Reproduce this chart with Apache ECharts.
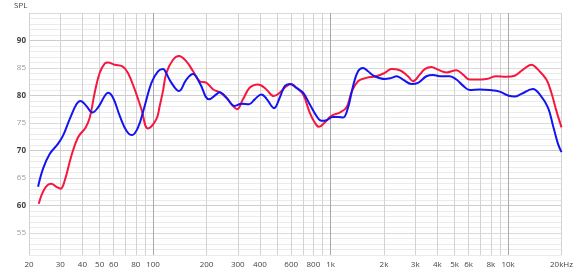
<!DOCTYPE html>
<html>
<head>
<meta charset="utf-8">
<script src="https://cdn.jsdelivr.net/npm/echarts@6/dist/echarts.min.js"></script>
<style>
html,body{margin:0;padding:0;background:#fff;}
#chart{width:576px;height:273px;}
</style>
</head>
<body>
<div id="chart"></div>
<script>
// Frequency (Hz) and SPL (dB)
var redFreq = [22.7,24.5,26.7,28.5,30.1,31.8,34.7,37.8,41.7,44,46.9,50,53.4,55.7,60.8,67.2,72.2,78.8,86,93.6,104.4,109,113.7,118.9,129.5,140,154,168,183,200,218,237,259,282,297,321,350,390,435,478,517,564,602,642,700,763,814,861,927,1011,1126,1228,1310,1428,1592,1812,2018,2202,2452,2730,2915,3178,3392,3698,4030,4494,5117,5574,6080,6632,7550,8596,9788,10898,12138,13536,14746,16440,17540,18720,20000];
var redSpl = [60.3,63.05,63.95,63.4,63.05,64.55,69.1,72.4,74.2,76,80.5,84.1,85.8,86,85.6,85.3,84.1,81.1,77.5,74,75.7,78.1,80.8,84.1,86.5,87.2,86.2,84.4,82.6,82.3,81.1,80.6,79.6,78.1,77.5,79.3,81.4,82,81.1,79.9,80.5,81.7,82.1,81.4,80.2,76.9,75.1,74.3,75.1,76.3,76.9,77.8,80.5,82.6,83.2,83.5,84.1,84.8,84.6,83.5,82.6,83.8,84.8,85.2,84.7,84.2,84.6,83.8,82.9,82.9,83,83.5,83.4,83.6,84.7,85.6,84.7,82.9,80.5,77.2,74.2];
var blueFreq = [22.5,24,26.2,29.1,31.1,33.9,37,39,42.1,45.5,48.9,53.4,55.7,59.5,64.9,70.8,76.1,82.3,89.7,97.9,106.6,113.7,116.3,126.9,140,154,168,183,207,227,237,259,288,315,347,374,408,438,480,517,552,589,642,700,763,832,888,947,1032,1101,1175,1254,1338,1428,1523,1625,1773,2018,2202,2350,2559,2854,3110,3467,3777,4120,4690,5117,5574,6080,6922,7880,8972,9990,10898,11890,13818,15078,16784,17918,19114,20000];
var blueSpl = [63.4,66.7,69.4,71.2,72.7,75.7,78.4,79,78.1,76.9,77.8,79.9,80.5,79.6,76.3,73.6,72.8,74.2,78.1,82.3,84.4,84.8,84.6,82.3,80.8,82.9,83.9,82.3,79.3,80.2,80.6,79.6,78.1,78.5,78.4,79.3,80.2,79.3,77.7,79.6,81.7,82.1,81.4,80.5,78.4,76.3,75.4,75.5,76.1,76.1,76,77.8,81.7,84.4,85,84.4,83.5,83,83.2,83.5,82.9,82.1,82.3,83.5,83.75,83.5,83.5,82.9,81.8,81,81.1,81,80.7,80,79.8,80.3,81.2,80.2,77.8,74.5,71.2,69.7];
var gridFreqs = [20,30,40,50,60,70,80,90,100,200,300,400,500,600,700,800,900,1000,2000,3000,4000,5000,6000,7000,8000,9000,10000,20000];
var xTickFreqs = [20,30,40,50,60,80,100,200,300,400,600,800,1000,2000,3000,4000,5000,6000,8000,10000,20000];
var xTickLabels = ['20','30','40','50','60','80','100','200','300','400','600','800','1k','2k','3k','4k','5k','6k','8k','10k','20kHz'];
var yTicks = [55,60,65,70,75,80,85,90];

var lg = function (f) { return Math.log10(f); };
var toPairs = function (fr, sp) { return fr.map(function (f, i) { return [lg(f), sp[i]]; }); };

var chart = echarts.init(document.getElementById('chart'), null, {renderer: 'canvas'});
var vColors = [];
for (var i = 0; i < 9; i++) vColors.push(i === 8 ? '#a9a9a9' : '#d2d2d2');
var hColors = [];
for (var j = 0; j < 10; j++) hColors.push(j === 9 ? '#cdcdcd' : (j === 4 ? '#dadada' : '#ebebeb'));

chart.setOption({
  animation: false,
  backgroundColor: '#ffffff',
  grid: {left: 29, right: 13, top: 13, bottom: 18, containLabel: false},
  graphic: [{type: 'text', left: 14, top: 2, style: {text: 'SPL', fontSize: 8, fontFamily: 'Open Sans', fill: '#444'}}],
  xAxis: {
    type: 'value',
    min: lg(20), max: lg(20000),
    axisLine: {show: false},
    axisTick: {show: false, customValues: gridFreqs.map(lg)},
    splitLine: {show: true, lineStyle: {color: vColors, width: 1}},
    axisLabel: {
      customValues: xTickFreqs.map(lg),
      margin: 6,
      fontSize: 8, fontFamily: 'Open Sans', color: '#444',
      formatter: function (v) {
        var f = Math.round(Math.pow(10, v));
        var k = xTickFreqs.indexOf(f);
        return k >= 0 ? xTickLabels[k] : '';
      }
    }
  },
  yAxis: {
    type: 'value',
    min: 51, max: 95, interval: 1,
    axisLine: {show: false},
    axisTick: {show: false},
    splitLine: {show: true, lineStyle: {color: hColors, width: 1}},
    axisLabel: {
      margin: 3,
      fontSize: 8, fontFamily: 'Open Sans',
      formatter: function (v) {
        if (yTicks.indexOf(v) < 0) return '';
        return v % 10 === 0 ? '{d|' + v + '}' : '{l|' + v + '}';
      },
      rich: {
        d: {color: '#444', fontSize: 8, fontFamily: 'Open Sans', fontWeight: 'bold'},
        l: {color: '#9a9a9a', fontSize: 8, fontFamily: 'Open Sans'}
      }
    }
  },
  series: [
    {type: 'line', name: 'red', data: toPairs(redFreq, redSpl), smooth: 0.4, showSymbol: false, symbol: 'none',
     lineStyle: {color: '#f5173f', width: 2}, itemStyle: {color: '#f5173f'}, z: 3},
    {type: 'line', name: 'blue', data: toPairs(blueFreq, blueSpl), smooth: 0.4, showSymbol: false, symbol: 'none',
     lineStyle: {color: '#1414f0', width: 2}, itemStyle: {color: '#1414f0'}, z: 4}
  ]
});
</script>
</body>
</html>
